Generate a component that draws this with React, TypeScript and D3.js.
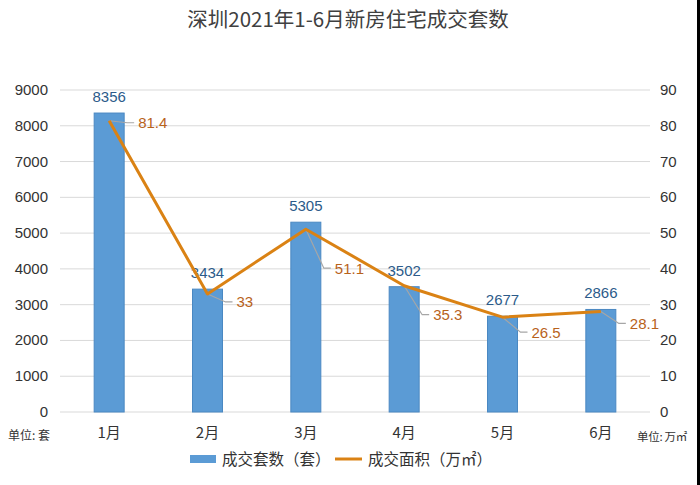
import React from 'react';
import * as d3 from 'd3';

// 数据
const months = ['1月', '2月', '3月', '4月', '5月', '6月'];
const counts = [8356, 3434, 5305, 3502, 2677, 2866];
const areas = [81.4, 33, 51.1, 35.3, 26.5, 28.1];
const leftTicks = [0, 1000, 2000, 3000, 4000, 5000, 6000, 7000, 8000, 9000];
const rightTicks = [0, 10, 20, 30, 40, 50, 60, 70, 80, 90];

// 面积标签相对点的竖直偏移
const areaLabelDy = [2, 8, 39, 29, 15, 12];

const width = 700;
const height = 485;
const margin = { top: 90, right: 50, bottom: 73, left: 60 };

const numFont = '"Liberation Sans", Arial, "Noto Sans CJK SC", sans-serif';
const cjkFont = '"Noto Sans CJK SC", "Liberation Sans", sans-serif';

const App: React.FC = () => {
  const x = d3.scaleBand<string>()
    .domain(months)
    .range([margin.left, width - margin.right])
    .paddingInner(0.695)
    .paddingOuter(0.3475);

  const yL = d3.scaleLinear().domain([0, 9000]).range([height - margin.bottom, margin.top]);
  const yR = d3.scaleLinear().domain([0, 90]).range([height - margin.bottom, margin.top]);

  const cx = (m: string) => (x(m) ?? 0) + x.bandwidth() / 2;

  const line = d3.line<number>()
    .x((_, i) => cx(months[i]))
    .y(d => yR(d));

  const baseY = yL(0);

  return (
    <svg width={width} height={height} style={{ position: 'absolute', left: 0, top: 0, background: '#fff' }}>
      <rect x={0} y={0} width={width} height={height} fill="#fff" />
      {/* 标题 */}
      <text x={348} y={27} textAnchor="middle" fontSize={20.5} fill="#404040" fontFamily={cjkFont}>
        深圳2021年1-6月新房住宅成交套数
      </text>

      {/* 网格线 */}
      {leftTicks.map(t => (
        <line key={t} x1={margin.left} x2={width - margin.right} y1={yL(t)} y2={yL(t)}
          stroke="#d9d9d9" strokeWidth={1} />
      ))}

      {/* 左轴 */}
      {leftTicks.map(t => (
        <text key={'l' + t} x={48} y={yL(t) + 5} textAnchor="end" fontSize={15} fill="#333" fontFamily={numFont}>{t}</text>
      ))}
      {/* 右轴 */}
      {rightTicks.map(t => (
        <text key={'r' + t} x={660} y={yR(t) + 5} textAnchor="start" fontSize={15} fill="#333" fontFamily={numFont}>{t}</text>
      ))}

      {/* 柱 */}
      {counts.map((v, i) => (
        <rect key={months[i]} x={x(months[i])} y={yL(v)} width={x.bandwidth()} height={baseY - yL(v)}
          fill="#5B9BD5" stroke="#4a88c2" strokeWidth={1} />
      ))}

      {/* 柱标签 */}
      {counts.map((v, i) => (
        <text key={'c' + i} x={cx(months[i])} y={yL(v) - 11} textAnchor="middle" fontSize={15}
          fill="#2C5B8A" fontFamily={numFont}>{v}</text>
      ))}

      {/* 引导线 */}
      {areas.map((v, i) => {
        const px = cx(months[i]);
        const py = yR(v);
        const lx = px + 28;
        const ly = py + areaLabelDy[i];
        return (
          <polyline key={'g' + i} points={`${px},${py} ${lx - 10},${ly} ${lx - 3},${ly}`}
            fill="none" stroke="#a6a6a6" strokeWidth={1.2} />
        );
      })}

      {/* 折线 */}
      <path d={line(areas) ?? ''} fill="none" stroke="#DA8214" strokeWidth={3} strokeLinejoin="round" />

      {/* 面积标签 */}
      {areas.map((v, i) => (
        <text key={'a' + i} x={cx(months[i]) + 29} y={yR(v) + areaLabelDy[i] + 5.5} fontSize={15}
          fill="#B8621B" fontFamily={numFont}>{v}</text>
      ))}

      {/* 月份 */}
      {months.map(m => (
        <text key={'m' + m} x={cx(m)} y={438} textAnchor="middle" fontSize={15} fill="#333" fontFamily={cjkFont}>{m}</text>
      ))}

      {/* 单位 */}
      <text x={8} y={440} fontSize={12} fill="#333" fontFamily={cjkFont}>单位: 套</text>
      <text x={637} y={441} fontSize={11.5} letterSpacing={-0.3} fill="#333" fontFamily={cjkFont}>单位: 万㎡</text>

      {/* 图例 */}
      <rect x={190} y={455} width={26} height={8} fill="#5B9BD5" />
      <text x={222} y={465} fontSize={15.5} fill="#333" fontFamily={cjkFont}>成交套数（套）</text>
      <line x1={335} x2={362} y1={459} y2={459} stroke="#DA8214" strokeWidth={3} />
      <text x={368} y={465} fontSize={15.5} fill="#333" fontFamily={cjkFont}>成交面积（万㎡）</text>

      {/* 右边框 */}
      <rect x={697} y={0} width={3} height={height} fill="#000" />
    </svg>
  );
};

export default App;
